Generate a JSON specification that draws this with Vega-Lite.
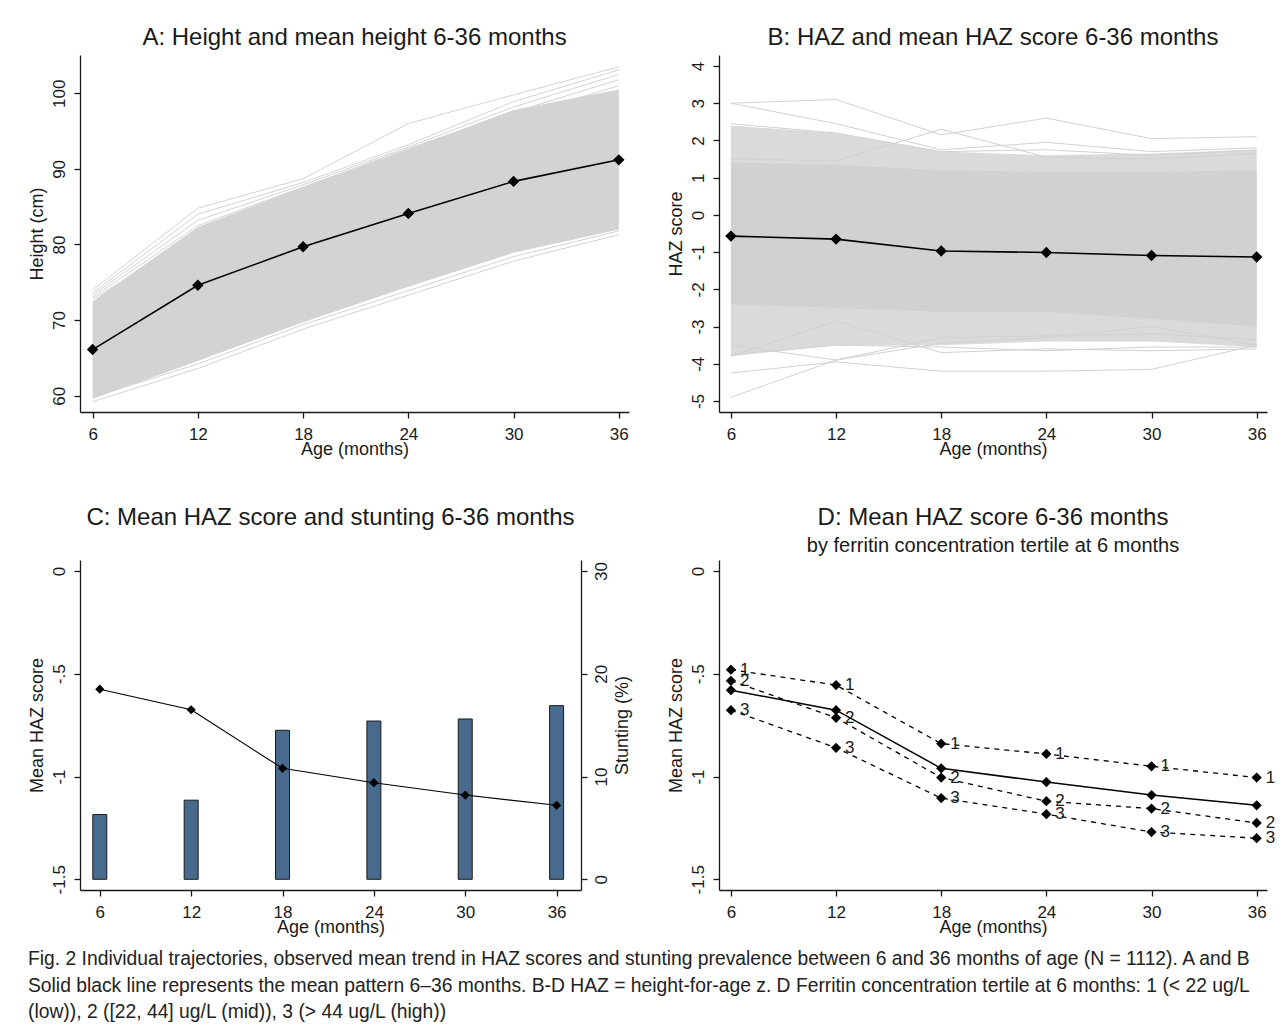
{
  "$schema": "https://vega.github.io/schema/vega-lite/v6.json",
  "autosize": {"type": "pad"},
  "padding": {"left": 28, "top": 26, "right": 5, "bottom": 5},
  "background": "white",
  "bounds": "flush",
  "columns": 2,
  "spacing": {"row": 148, "column": 90},
  "config": {
    "font": "Liberation Sans",
    "view": {"stroke": null},
    "axis": {
      "grid": false,
      "domainColor": "#1a1a1a",
      "tickColor": "#1a1a1a",
      "labelColor": "#1a1a1a",
      "titleColor": "#1a1a1a",
      "labelFont": "Liberation Sans",
      "titleFont": "Liberation Sans",
      "labelFontSize": 17,
      "titleFontSize": 18,
      "titleFontWeight": "normal",
      "tickSize": 6,
      "domainWidth": 1.3,
      "tickWidth": 1.3,
      "labelOverlap": false
    },
    "axisX": {"labelPadding": 8, "titlePadding": -2, "labelFlush": false},
    "axisLeft": {"labelAngle": 270, "labelAlign": "center", "labelBaseline": "bottom", "labelPadding": 6, "titlePadding": 4},
    "axisRight": {"labelAngle": 270, "labelAlign": "center", "labelBaseline": "top", "labelPadding": 6, "titlePadding": 4, "titleAngle": 270, "titleBaseline": "top"},
    "title": {"font": "Liberation Sans", "fontSize": 24, "fontWeight": "normal", "color": "#1a1a1a", "subtitleFont": "Liberation Sans", "subtitleFontSize": 20, "subtitleColor": "#1a1a1a", "baseline": "bottom", "anchor": "middle"}
  },
  "title": {
    "text": [
      "Fig. 2  Individual trajectories, observed mean trend in HAZ scores and stunting prevalence between 6 and 36 months of age (N = 1112). A and B",
      "Solid black line represents the mean pattern 6–36 months. B-D HAZ = height-for-age z. D Ferritin concentration tertile at 6 months: 1 (< 22 ug/L",
      "(low)), 2 ([22, 44] ug/L (mid)), 3 (> 44 ug/L (high))"
    ],
    "orient": "bottom",
    "anchor": "start",
    "frame": "bounds",
    "fontSize": 19.3,
    "fontWeight": "normal",
    "lineHeight": 26.5,
    "baseline": "top",
    "offset": 14,
    "color": "#222222"
  },
  "datasets": {
    "aband": [
      {"age": 6, "lo": 59.6, "hi": 72.5},
      {"age": 12, "lo": 64.6, "hi": 82.3},
      {"age": 18, "lo": 69.7, "hi": 87.6},
      {"age": 24, "lo": 74.4, "hi": 92.6},
      {"age": 30, "lo": 78.9, "hi": 97.8},
      {"age": 36, "lo": 82.0, "hi": 100.5}
    ],
    "alines": [
      {"id": "a1", "age": 6, "v": 74.0}, {"id": "a1", "age": 12, "v": 84.8}, {"id": "a1", "age": 18, "v": 88.7}, {"id": "a1", "age": 24, "v": 96.0}, {"id": "a1", "age": 30, "v": 99.8}, {"id": "a1", "age": 36, "v": 103.5},
      {"id": "a2", "age": 6, "v": 73.6}, {"id": "a2", "age": 12, "v": 84.0}, {"id": "a2", "age": 18, "v": 88.2}, {"id": "a2", "age": 24, "v": 93.2}, {"id": "a2", "age": 30, "v": 98.9}, {"id": "a2", "age": 36, "v": 103.1},
      {"id": "a3", "age": 6, "v": 73.3}, {"id": "a3", "age": 12, "v": 83.2}, {"id": "a3", "age": 18, "v": 87.9}, {"id": "a3", "age": 24, "v": 92.9}, {"id": "a3", "age": 30, "v": 98.2}, {"id": "a3", "age": 36, "v": 102.5},
      {"id": "a4", "age": 6, "v": 59.2}, {"id": "a4", "age": 12, "v": 63.6}, {"id": "a4", "age": 18, "v": 68.8}, {"id": "a4", "age": 24, "v": 73.3}, {"id": "a4", "age": 30, "v": 77.8}, {"id": "a4", "age": 36, "v": 81.3},
      {"id": "a5", "age": 6, "v": 59.8}, {"id": "a5", "age": 12, "v": 64.2}, {"id": "a5", "age": 18, "v": 69.4}, {"id": "a5", "age": 24, "v": 73.9}, {"id": "a5", "age": 30, "v": 78.4}, {"id": "a5", "age": 36, "v": 81.8},
      {"id": "a6", "age": 6, "v": 73.0}, {"id": "a6", "age": 12, "v": 82.5}, {"id": "a6", "age": 18, "v": 87.6}, {"id": "a6", "age": 24, "v": 92.7}, {"id": "a6", "age": 30, "v": 97.5}, {"id": "a6", "age": 36, "v": 101.8},
      {"id": "a7", "age": 6, "v": 72.8}, {"id": "a7", "age": 12, "v": 81.0}, {"id": "a7", "age": 18, "v": 86.5}, {"id": "a7", "age": 24, "v": 92.0}, {"id": "a7", "age": 30, "v": 96.8}, {"id": "a7", "age": 36, "v": 101.0}
    ],
    "amean": [
      {"age": 6, "v": 66.1}, {"age": 12, "v": 74.6}, {"age": 18, "v": 79.7}, {"age": 24, "v": 84.1}, {"age": 30, "v": 88.35}, {"age": 36, "v": 91.2}
    ],
    "bband": [
      {"age": 6, "olo": -3.8, "ohi": 2.4, "lo": -2.4, "hi": 1.4},
      {"age": 12, "olo": -3.5, "ohi": 2.2, "lo": -2.5, "hi": 1.35},
      {"age": 18, "olo": -3.5, "ohi": 1.7, "lo": -2.6, "hi": 1.2},
      {"age": 24, "olo": -3.4, "ohi": 1.6, "lo": -2.6, "hi": 1.15},
      {"age": 30, "olo": -3.4, "ohi": 1.65, "lo": -2.8, "hi": 1.15},
      {"age": 36, "olo": -3.55, "ohi": 1.75, "lo": -3.0, "hi": 1.2}
    ],
    "blines": [
      {"id": "b1", "age": 6, "v": 3.0}, {"id": "b1", "age": 12, "v": 3.1}, {"id": "b1", "age": 18, "v": 2.15}, {"id": "b1", "age": 24, "v": 2.6}, {"id": "b1", "age": 30, "v": 2.05}, {"id": "b1", "age": 36, "v": 2.1},
      {"id": "b2", "age": 6, "v": 3.0}, {"id": "b2", "age": 12, "v": 2.45}, {"id": "b2", "age": 18, "v": 1.75}, {"id": "b2", "age": 24, "v": 1.95}, {"id": "b2", "age": 30, "v": 1.7}, {"id": "b2", "age": 36, "v": 1.8},
      {"id": "b3", "age": 6, "v": 1.5}, {"id": "b3", "age": 12, "v": 1.45}, {"id": "b3", "age": 18, "v": 2.3}, {"id": "b3", "age": 24, "v": 1.55}, {"id": "b3", "age": 30, "v": 1.5}, {"id": "b3", "age": 36, "v": 1.65},
      {"id": "b4", "age": 6, "v": 2.45}, {"id": "b4", "age": 12, "v": 2.2}, {"id": "b4", "age": 18, "v": 1.7}, {"id": "b4", "age": 24, "v": 1.75}, {"id": "b4", "age": 30, "v": 1.6}, {"id": "b4", "age": 36, "v": 1.75},
      {"id": "b5", "age": 6, "v": -4.9}, {"id": "b5", "age": 12, "v": -3.9}, {"id": "b5", "age": 18, "v": -3.3}, {"id": "b5", "age": 24, "v": -3.25}, {"id": "b5", "age": 30, "v": -3.2}, {"id": "b5", "age": 36, "v": -3.35},
      {"id": "b6", "age": 6, "v": -4.25}, {"id": "b6", "age": 12, "v": -3.95}, {"id": "b6", "age": 18, "v": -4.2}, {"id": "b6", "age": 24, "v": -4.2}, {"id": "b6", "age": 30, "v": -4.15}, {"id": "b6", "age": 36, "v": -3.5},
      {"id": "b7", "age": 6, "v": -3.8}, {"id": "b7", "age": 12, "v": -2.85}, {"id": "b7", "age": 18, "v": -3.7}, {"id": "b7", "age": 24, "v": -3.6}, {"id": "b7", "age": 30, "v": -3.65}, {"id": "b7", "age": 36, "v": -3.6},
      {"id": "b8", "age": 6, "v": -3.5}, {"id": "b8", "age": 12, "v": -3.9}, {"id": "b8", "age": 18, "v": -3.45}, {"id": "b8", "age": 24, "v": -3.3}, {"id": "b8", "age": 30, "v": -3.0}, {"id": "b8", "age": 36, "v": -3.5},
      {"id": "b9", "age": 6, "v": -3.75}, {"id": "b9", "age": 12, "v": -3.5}, {"id": "b9", "age": 18, "v": -3.55}, {"id": "b9", "age": 24, "v": -3.65}, {"id": "b9", "age": 30, "v": -3.55}, {"id": "b9", "age": 36, "v": -3.55}
    ],
    "bmean": [
      {"age": 6, "v": -0.57}, {"age": 12, "v": -0.65}, {"age": 18, "v": -0.97}, {"age": 24, "v": -1.01}, {"age": 30, "v": -1.09}, {"age": 36, "v": -1.13}
    ],
    "cdata": [
      {"age": 6, "stunting": 6.3, "haz": -0.575},
      {"age": 12, "stunting": 7.7, "haz": -0.675},
      {"age": 18, "stunting": 14.5, "haz": -0.96},
      {"age": 24, "stunting": 15.4, "haz": -1.03},
      {"age": 30, "stunting": 15.6, "haz": -1.09},
      {"age": 36, "stunting": 16.9, "haz": -1.14}
    ],
    "dlines": [
      {"grp": "1", "age": 6, "v": -0.48}, {"grp": "1", "age": 12, "v": -0.555}, {"grp": "1", "age": 18, "v": -0.84}, {"grp": "1", "age": 24, "v": -0.89}, {"grp": "1", "age": 30, "v": -0.95}, {"grp": "1", "age": 36, "v": -1.005},
      {"grp": "2", "age": 6, "v": -0.534}, {"grp": "2", "age": 12, "v": -0.714}, {"grp": "2", "age": 18, "v": -1.005}, {"grp": "2", "age": 24, "v": -1.12}, {"grp": "2", "age": 30, "v": -1.156}, {"grp": "2", "age": 36, "v": -1.226},
      {"grp": "3", "age": 6, "v": -0.677}, {"grp": "3", "age": 12, "v": -0.86}, {"grp": "3", "age": 18, "v": -1.105}, {"grp": "3", "age": 24, "v": -1.183}, {"grp": "3", "age": 30, "v": -1.27}, {"grp": "3", "age": 36, "v": -1.3}
    ],
    "dmean": [
      {"age": 6, "v": -0.58}, {"age": 12, "v": -0.677}, {"age": 18, "v": -0.96}, {"age": 24, "v": -1.027}, {"age": 30, "v": -1.09}, {"age": 36, "v": -1.14}
    ]
  },
  "concat": [
    {
      "width": 549,
      "height": 357,
      "title": {"text": "A: Height and mean height 6-36 months", "offset": 5},
      "layer": [
        {
          "data": {"name": "aband"},
          "mark": {"type": "area", "color": "#d3d3d3", "opacity": 1},
          "encoding": {
            "x": {"field": "age", "type": "quantitative", "scale": {"domain": [5.281, 36.58], "nice": false, "zero": false},
                  "axis": {"values": [6, 12, 18, 24, 30, 36], "tickCount": 12, "title": "Age (months)"}},
            "y": {"field": "lo", "type": "quantitative", "scale": {"domain": [57.84, 105.07], "nice": false, "zero": false},
                  "axis": {"values": [60, 70, 80, 90, 100], "tickCount": 12, "labelOverlap": false, "title": "Height (cm)"}},
            "y2": {"field": "hi"}
          }
        },
        {
          "data": {"name": "alines"},
          "mark": {"type": "line", "color": "#d3d3d3", "strokeWidth": 1},
          "encoding": {
            "x": {"field": "age", "type": "quantitative"},
            "y": {"field": "v", "type": "quantitative"},
            "detail": {"field": "id"}
          }
        },
        {
          "data": {"name": "amean"},
          "mark": {"type": "line", "color": "#000000", "strokeWidth": 1.6, "point": {"shape": "diamond", "filled": true, "size": 130, "color": "#000000"}},
          "encoding": {
            "x": {"field": "age", "type": "quantitative"},
            "y": {"field": "v", "type": "quantitative"}
          }
        }
      ]
    },
    {
      "width": 548,
      "height": 357,
      "title": {"text": "B: HAZ and mean HAZ score 6-36 months", "offset": 5},
      "layer": [
        {
          "data": {"name": "bband"},
          "mark": {"type": "area", "color": "#dadada"},
          "encoding": {
            "x": {"field": "age", "type": "quantitative", "scale": {"domain": [5.32, 36.59], "nice": false, "zero": false},
                  "axis": {"values": [6, 12, 18, 24, 30, 36], "tickCount": 12, "title": "Age (months)"}},
            "y": {"field": "olo", "type": "quantitative", "scale": {"domain": [-5.296, 4.296], "nice": false, "zero": false},
                  "axis": {"values": [-5, -4, -3, -2, -1, 0, 1, 2, 3, 4], "tickCount": 14, "labelExpr": "toString(datum.value)", "labelOverlap": false, "labelSeparation": 0, "title": "HAZ score"}},
            "y2": {"field": "ohi"}
          }
        },
        {
          "data": {"name": "bband"},
          "mark": {"type": "area", "color": "#d1d1d1"},
          "encoding": {
            "x": {"field": "age", "type": "quantitative"},
            "y": {"field": "lo", "type": "quantitative"},
            "y2": {"field": "hi"}
          }
        },
        {
          "data": {"name": "blines"},
          "mark": {"type": "line", "color": "#d1d1d1", "strokeWidth": 1},
          "encoding": {
            "x": {"field": "age", "type": "quantitative"},
            "y": {"field": "v", "type": "quantitative"},
            "detail": {"field": "id"}
          }
        },
        {
          "data": {"name": "bmean"},
          "mark": {"type": "line", "color": "#000000", "strokeWidth": 1.6, "point": {"shape": "diamond", "filled": true, "size": 130, "color": "#000000"}},
          "encoding": {
            "x": {"field": "age", "type": "quantitative"},
            "y": {"field": "v", "type": "quantitative"}
          }
        }
      ]
    },
    {
      "width": 501,
      "height": 330,
      "title": {"text": "C: Mean HAZ score and stunting 6-36 months", "offset": 30},
      "data": {"name": "cdata"},
      "layer": [
        {
          "mark": {"type": "bar", "size": 14, "color": "#476a8d", "stroke": "#1a1a1a", "strokeWidth": 1},
          "encoding": {
            "x": {"field": "age", "type": "quantitative", "scale": {"domain": [5.028, 37.274], "nice": false, "zero": false},
                  "axis": {"values": [6, 12, 18, 24, 30, 36], "tickCount": 12, "title": "Age (months)"}},
            "y": {"field": "stunting", "type": "quantitative", "scale": {"domain": [-1.04, 31.07], "nice": false, "zero": false},
                  "axis": {"orient": "right", "values": [0, 10, 20, 30], "tickCount": 12, "title": "Stunting (%)"}}
          }
        },
        {
          "mark": {"type": "line", "color": "#000000", "strokeWidth": 1.1, "point": {"shape": "diamond", "filled": true, "size": 85, "color": "#000000"}},
          "encoding": {
            "x": {"field": "age", "type": "quantitative"},
            "y": {"field": "haz", "type": "quantitative", "scale": {"domain": [-1.552, 0.0535], "nice": false, "zero": false},
                  "axis": {"orient": "left", "values": [-1.5, -1, -0.5, 0], "tickCount": 12, "labelExpr": "replace(toString(datum.value), '0.', '.')", "title": "Mean HAZ score"}}
          }
        }
      ],
      "resolve": {"scale": {"y": "independent"}}
    },
    {
      "width": 548,
      "height": 330,
      "title": {"text": "D: Mean HAZ score 6-36 months", "subtitle": "by ferritin concentration tertile at 6 months", "offset": 4, "subtitlePadding": 6},
      "layer": [
        {
          "data": {"name": "dlines"},
          "mark": {"type": "line", "color": "#000000", "strokeWidth": 1.3, "strokeDash": [5, 5]},
          "encoding": {
            "x": {"field": "age", "type": "quantitative", "scale": {"domain": [5.32, 36.59], "nice": false, "zero": false},
                  "axis": {"values": [6, 12, 18, 24, 30, 36], "tickCount": 12, "title": "Age (months)"}},
            "y": {"field": "v", "type": "quantitative", "scale": {"domain": [-1.552, 0.0535], "nice": false, "zero": false},
                  "axis": {"values": [-1.5, -1, -0.5, 0], "tickCount": 12, "labelExpr": "replace(toString(datum.value), '0.', '.')", "title": "Mean HAZ score"}},
            "detail": {"field": "grp"}
          }
        },
        {
          "data": {"name": "dlines"},
          "mark": {"type": "point", "shape": "diamond", "filled": true, "size": 105, "color": "#000000", "opacity": 1},
          "encoding": {
            "x": {"field": "age", "type": "quantitative"},
            "y": {"field": "v", "type": "quantitative"}
          }
        },
        {
          "data": {"name": "dlines"},
          "mark": {"type": "text", "align": "left", "baseline": "middle", "dx": 9, "fontSize": 17, "color": "#1a1a1a"},
          "encoding": {
            "x": {"field": "age", "type": "quantitative"},
            "y": {"field": "v", "type": "quantitative"},
            "text": {"field": "grp"}
          }
        },
        {
          "data": {"name": "dmean"},
          "mark": {"type": "line", "color": "#000000", "strokeWidth": 1.5, "point": {"shape": "diamond", "filled": true, "size": 105, "color": "#000000"}},
          "encoding": {
            "x": {"field": "age", "type": "quantitative"},
            "y": {"field": "v", "type": "quantitative"}
          }
        }
      ]
    }
  ]
}
